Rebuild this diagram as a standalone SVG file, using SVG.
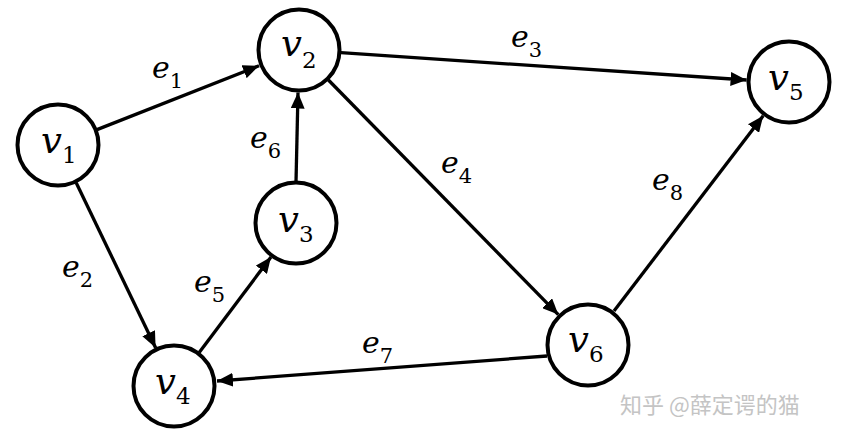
<svg xmlns="http://www.w3.org/2000/svg" width="850" height="438" viewBox="0 0 850 438">
<style>
.node{fill:#fff;stroke:#000;stroke-width:4}
.vl{font-family:"DejaVu Serif",serif;font-style:italic;font-size:37px;fill:#000}
.el{font-family:"DejaVu Serif",serif;font-style:italic;font-size:30px;fill:#000}
.sub{font-style:normal;font-family:"DejaVu Serif",serif}
.vs{font-size:23px}
.es{font-size:21px}
.edge{stroke:#000;stroke-width:3.3;fill:none;marker-end:url(#arr)}
.wm{font-family:"Noto Sans CJK SC",sans-serif;font-size:22px;fill:#c4c4c4}
</style>
<defs>
<marker id="arr" viewBox="0 0 16 14" refX="16" refY="7" markerWidth="16" markerHeight="14" markerUnits="userSpaceOnUse" orient="auto">
<path d="M0,0 L16,7 L0,14 Z" fill="#000"/>
</marker>
</defs>
<rect width="850" height="438" fill="#fff"/>
<g id="edges">
<line class="edge" x1="97" y1="129.6" x2="259" y2="65.8"/>
<line class="edge" x1="76.2" y1="182.8" x2="155.6" y2="347.7"/>
<line class="edge" x1="340.9" y1="52.7" x2="746.6" y2="80"/>
<line class="edge" x1="328.4" y1="80" x2="558.3" y2="314.6"/>
<line class="edge" x1="199.2" y1="352.4" x2="271" y2="257"/>
<line class="edge" x1="296" y1="182" x2="298" y2="92.5"/>
<line class="edge" x1="547" y1="356" x2="217" y2="381"/>
<line class="edge" x1="614" y1="311" x2="763.2" y2="115.8"/>
<text class="el" x="152" y="78">e<tspan class="sub es" dy="10">1</tspan></text>
<text class="el" x="62" y="277">e<tspan class="sub es" dy="10">2</tspan></text>
<text class="el" x="511" y="47">e<tspan class="sub es" dy="10">3</tspan></text>
<text class="el" x="441" y="173">e<tspan class="sub es" dy="10">4</tspan></text>
<text class="el" x="194" y="292">e<tspan class="sub es" dy="10">5</tspan></text>
<text class="el" x="250" y="148">e<tspan class="sub es" dy="10">6</tspan></text>
<text class="el" x="362" y="353">e<tspan class="sub es" dy="10">7</tspan></text>
<text class="el" x="652" y="190">e<tspan class="sub es" dy="10">8</tspan></text>
</g>
<g id="v1"><circle class="node" cx="58" cy="145" r="40.5"/><text class="vl" x="41" y="153">v<tspan class="sub vs" dy="10">1</tspan></text></g>
<g id="v2"><circle class="node" cx="299" cy="50" r="40.5"/><text class="vl" x="281" y="56">v<tspan class="sub vs" dy="12">2</tspan></text></g>
<g id="v3"><circle class="node" cx="296" cy="223" r="40.5"/><text class="vl" x="278" y="232">v<tspan class="sub vs" dy="10">3</tspan></text></g>
<g id="v4"><circle class="node" cx="174" cy="386" r="40.5"/><text class="vl" x="155" y="394">v<tspan class="sub vs" dy="10">4</tspan></text></g>
<g id="v5"><circle class="node" cx="789" cy="82" r="40.5"/><text class="vl" x="768" y="90">v<tspan class="sub vs" dy="10">5</tspan></text></g>
<g id="v6"><circle class="node" cx="588" cy="345" r="40.5"/><text class="vl" x="568" y="352">v<tspan class="sub vs" dy="10">6</tspan></text></g>
<text class="wm" x="620" y="413">知乎 @薛定谔的猫</text>
</svg>
